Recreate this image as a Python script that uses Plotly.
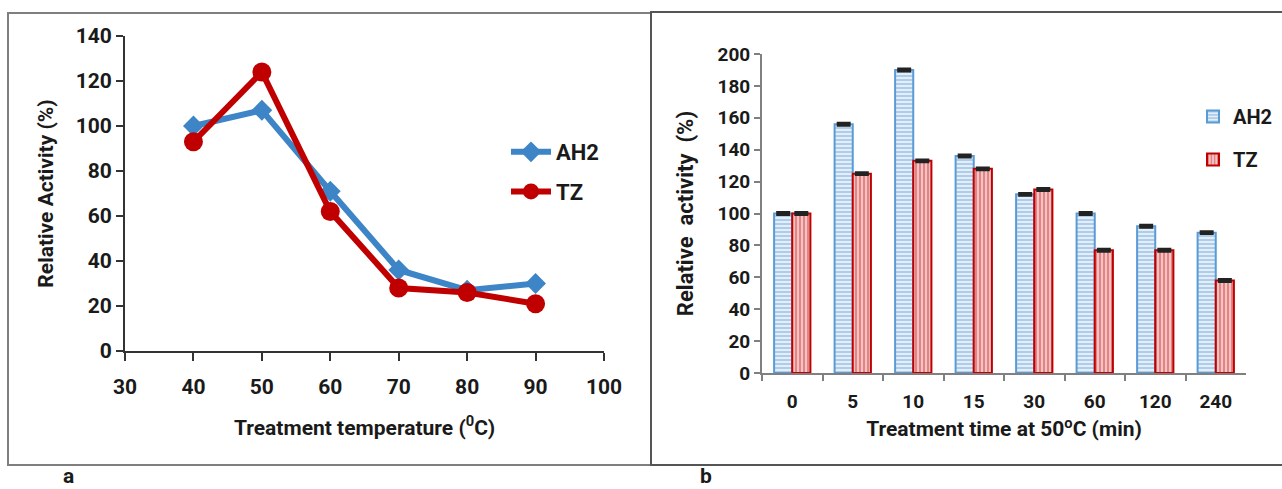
import plotly.graph_objects as go

W, H = 1282, 489

# ---- data panel a ----
temp = [40, 50, 60, 70, 80, 90]
ah2_temp = [100, 107, 71, 36, 27, 30]
tz_temp = [93, 124, 62, 28, 26, 21]

# ---- data panel b ----
time_cats = ["0", "5", "10", "15", "30", "60", "120", "240"]
ah2_time = [100, 156, 190, 136, 112, 100, 92, 88]
tz_time = [100, 125, 133, 128, 115, 77, 77, 58]
err_cap = [0.6] * len(time_cats)

FONT = "Roboto, Liberation Sans, Arial"
BLUE = "#3d85c6"
RED = "#c00000"
TXT = "#1a1a1a"

def px(x):
    return x / W

def py(y):
    return (H - y) / H

def bf(size):
    return dict(family=FONT, size=size, color=TXT, weight="bold")

fig = go.Figure()

fig.add_trace(go.Scatter(
    x=temp, y=ah2_temp, name="AH2", mode="lines+markers",
    line=dict(color=BLUE, width=6),
    marker=dict(symbol="diamond", size=16, color=BLUE),
    xaxis="x", yaxis="y", legend="legend", legendgroup="a1"))
fig.add_trace(go.Scatter(
    x=temp, y=tz_temp, name="TZ", mode="lines+markers",
    line=dict(color=RED, width=6),
    marker=dict(symbol="circle", size=19, color=RED),
    xaxis="x", yaxis="y", legend="legend", legendgroup="a2"))

fig.add_trace(go.Bar(
    x=time_cats, y=ah2_time, name="AH2",
    marker=dict(color="#dbe8f6", line=dict(color="#5b9bd5", width=2),
                pattern=dict(shape="-", fgcolor="#5b9bd5", bgcolor="#e3eef9",
                             size=4, solidity=0.4)),
    error_y=dict(type="data", array=err_cap, color="#222222", thickness=3, width=7),
    xaxis="x2", yaxis="y2", legend="legend2", legendgroup="b1"))
fig.add_trace(go.Bar(
    x=time_cats, y=tz_time, name="TZ",
    marker=dict(color="#f2b8b8", line=dict(color=RED, width=2),
                pattern=dict(shape="|", fgcolor="#cc2020", bgcolor="#f4c4c4",
                             size=4, solidity=0.4)),
    error_y=dict(type="data", array=err_cap, color="#222222", thickness=3, width=7),
    xaxis="x2", yaxis="y2", legend="legend2", legendgroup="b2"))

fig.update_layout(
    width=W, height=H, autosize=False,
    margin=dict(l=0, r=0, t=0, b=0, autoexpand=False),
    paper_bgcolor="white", plot_bgcolor="white",
    font=dict(family=FONT, color=TXT),
    barmode="group", bargap=0.4, bargroupgap=0,
    xaxis=dict(domain=[px(125), px(604)], range=[30, 100], tickvals=[30, 40, 50, 60, 70, 80, 90, 100],
               showline=True, linecolor="#333333", linewidth=2, ticks="outside", ticklen=8,
               tickwidth=2, tickcolor="#333333", showgrid=False, zeroline=False,
               tickfont=bf(21), anchor="y", automargin=False, ticklabelstandoff=8,
               title=dict(text="Treatment temperature (<sup>0</sup>C)", font=bf(21), standoff=22)),
    yaxis=dict(domain=[py(351), py(36)], range=[0, 140], dtick=20,
               showline=True, linecolor="#333333", linewidth=2, ticks="outside", ticklen=7,
               tickwidth=2, tickcolor="#333333", showgrid=False, zeroline=False,
               tickfont=bf(21), anchor="x", automargin=False,
               title=dict(text="Relative Activity (%)", font=bf(21), standoff=16)),
    xaxis2=dict(domain=[px(762), px(1246)], showline=True, linecolor="#808080", linewidth=2,
                ticks="outside", tickson="boundaries", ticklen=6, tickwidth=2, tickcolor="#808080",
                showgrid=False, zeroline=False, anchor="y2", automargin=False,
                tickfont=bf(19), ticklabelstandoff=10,
                title=dict(text="Treatment time at 50<sup>o</sup>C (min)", font=bf(21), standoff=10)),
    yaxis2=dict(domain=[py(373), py(54)], range=[0, 200], dtick=20,
                showline=True, linecolor="#808080", linewidth=2, ticks="outside", ticklen=6,
                tickwidth=2, tickcolor="#808080", showgrid=False, zeroline=False, anchor="x2",
                tickfont=bf(19), automargin=False,
                title=dict(text="Relative  activity  (%)", font=bf(22), standoff=18)),
    legend=dict(x=px(506), y=py(131), xanchor="left", yanchor="top",
                font=bf(22), bgcolor="rgba(0,0,0,0)",
                tracegroupgap=8, itemwidth=40),
    legend2=dict(x=px(1193), y=py(97), xanchor="left", yanchor="top",
                 font=bf(20), bgcolor="rgba(0,0,0,0)",
                 tracegroupgap=14, itemwidth=30),
    showlegend=True,
)

fig.add_shape(type="rect", xref="paper", yref="paper",
              x0=px(8), x1=px(651), y0=py(465), y1=py(13),
              line=dict(color="#7f7f7f", width=2), fillcolor="rgba(0,0,0,0)", layer="below")
fig.add_shape(type="rect", xref="paper", yref="paper",
              x0=px(651), x1=px(1295), y0=py(465), y1=py(12),
              line=dict(color="#555555", width=2), fillcolor="rgba(0,0,0,0)", layer="below")

fig.add_annotation(text="a", xref="paper", yref="paper", x=px(68), y=py(476),
                   xanchor="center", yanchor="middle", showarrow=False, font=bf(21))
fig.add_annotation(text="b", xref="paper", yref="paper", x=px(706), y=py(476),
                   xanchor="center", yanchor="middle", showarrow=False, font=bf(21))

fig.write_html("out.html")
